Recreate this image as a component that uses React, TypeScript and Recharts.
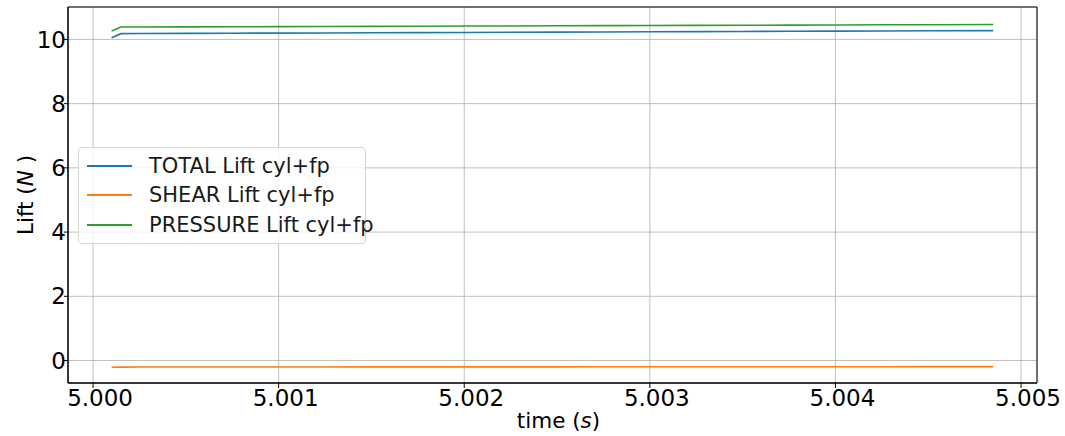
import React from "react";
import {
  LineChart,
  Line,
  XAxis,
  YAxis,
  CartesianGrid,
  ReferenceArea,
} from "recharts";

const time = [
  5.0001, 5.00015, 5.00025, 5.0005, 5.00075, 5.001, 5.00125, 5.0015, 5.00175,
  5.002, 5.00225, 5.0025, 5.00275, 5.003, 5.00325, 5.0035, 5.00375, 5.004,
  5.00425, 5.0045, 5.00485,
];
const totalLift = [
  10.05, 10.18, 10.185, 10.188, 10.193, 10.197, 10.202, 10.208, 10.212, 10.218,
  10.223, 10.228, 10.233, 10.238, 10.243, 10.248, 10.253, 10.258, 10.264,
  10.268, 10.273,
];
const shearLift = [
  -0.21, -0.205, -0.204, -0.203, -0.202, -0.201, -0.2, -0.199, -0.199, -0.198,
  -0.197, -0.197, -0.196, -0.195, -0.195, -0.194, -0.193, -0.193, -0.192,
  -0.191, -0.19,
];
const pressureLift = [
  10.26, 10.385, 10.389, 10.391, 10.395, 10.398, 10.402, 10.407, 10.411,
  10.416, 10.42, 10.425, 10.429, 10.433, 10.438, 10.442, 10.446, 10.451,
  10.456, 10.459, 10.463,
];
const xTicks = [5.0, 5.001, 5.002, 5.003, 5.004, 5.005];
const yTicks = [0, 2, 4, 6, 8, 10];

const series = [
  { key: "total", name: "TOTAL Lift cyl+fp", color: "#1f77b4" },
  { key: "shear", name: "SHEAR Lift cyl+fp", color: "#ff7f0e" },
  { key: "pressure", name: "PRESSURE Lift cyl+fp", color: "#2ca02c" },
];

const data = time.map((t, i) => ({
  t,
  total: totalLift[i],
  shear: shearLift[i],
  pressure: pressureLift[i],
}));

const FONT = "DejaVu Sans, sans-serif";
const X_DOMAIN: [number, number] = [4.999865, 5.005086];
const Y_DOMAIN: [number, number] = [-0.7, 11.01];

function LegendBox() {
  return (
    <div
      style={{
        position: "absolute",
        left: 78,
        top: 147,
        width: 288,
        height: 97,
        boxSizing: "border-box",
        border: "1px solid #d6d6d6",
        borderRadius: 4,
        background: "rgba(255,255,255,0.8)",
        padding: "3px 8px 0 8px",
        fontFamily: FONT,
        fontSize: 21,
        color: "#1a1a1a",
      }}
    >
      {series.map((s) => (
        <div
          key={s.key}
          style={{ display: "flex", alignItems: "center", height: 29.5 }}
        >
          <div
            style={{ width: 45, height: 2, flexShrink: 0, background: s.color }}
          />
          <span style={{ marginLeft: 17, whiteSpace: "nowrap" }}>{s.name}</span>
        </div>
      ))}
    </div>
  );
}

export default function App() {
  return (
    <div
      style={{
        position: "absolute",
        left: 0,
        top: 0,
        width: 1065,
        height: 436,
        background: "#fff",
      }}
    >
      <LineChart
        width={1065}
        height={436}
        data={data}
        margin={{ top: 7, right: 28, left: 0, bottom: 0 }}
      >
        <CartesianGrid stroke="#b0b0b0" strokeWidth={0.8} />
        <XAxis
          dataKey="t"
          type="number"
          domain={X_DOMAIN}
          ticks={xTicks}
          allowDataOverflow
          tickFormatter={(v: number) => v.toFixed(3)}
          height={53}
          tickSize={5}
          tickMargin={2}
          stroke="#000"
          tick={{ fill: "#000", fontSize: 23, fontFamily: FONT, dx: 7 }}
          label={{
            content: () => (
              <text
                x={558.5}
                y={428}
                textAnchor="middle"
                fontFamily={FONT}
                fontSize={21.5}
                fill="#000"
              >
                time (<tspan fontStyle="italic">s</tspan>)
              </text>
            ),
          }}
        />
        <YAxis
          type="number"
          domain={Y_DOMAIN}
          ticks={yTicks}
          allowDataOverflow
          width={68}
          tickSize={4}
          tickMargin={-2}
          stroke="#000"
          tick={{ fill: "#000", fontSize: 23, fontFamily: FONT }}
          label={{
            content: () => (
              <text
                x={0}
                y={0}
                transform="translate(33,195) rotate(-90)"
                textAnchor="middle"
                fontFamily={FONT}
                fontSize={21.5}
                fill="#000"
              >
                Lift (<tspan fontStyle="italic">N</tspan> )
              </text>
            ),
          }}
        />
        <ReferenceArea
          x1={X_DOMAIN[0]}
          x2={X_DOMAIN[1]}
          y1={Y_DOMAIN[0]}
          y2={Y_DOMAIN[1]}
          fill="none"
          stroke="#000"
          strokeWidth={1}
          ifOverflow="visible"
        />
        {series.map((s) => (
          <Line
            key={s.key}
            dataKey={s.key}
            name={s.name}
            stroke={s.color}
            strokeWidth={1.6}
            dot={false}
            isAnimationActive={false}
          />
        ))}
      </LineChart>
      <LegendBox />
    </div>
  );
}
